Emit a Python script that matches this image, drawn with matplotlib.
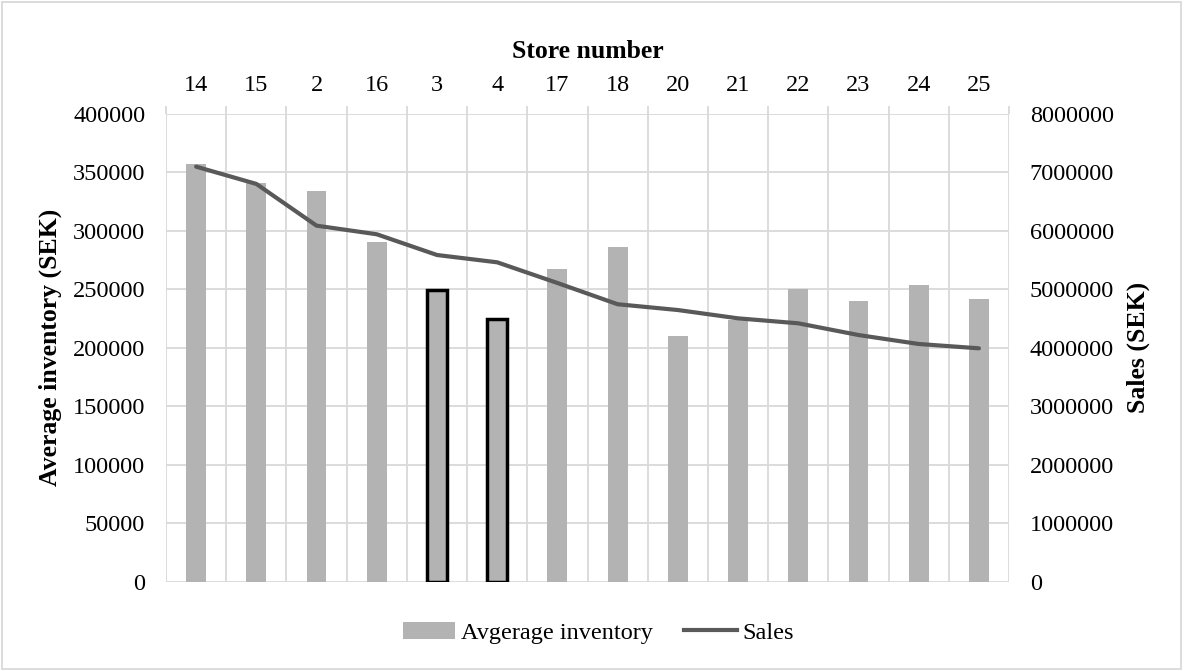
import matplotlib.pyplot as plt
import numpy as np
from matplotlib.patches import Patch, Rectangle
from matplotlib.lines import Line2D
from matplotlib.ticker import FormatStrFormatter

plt.rcParams['font.family'] = ['Liberation Serif', 'DejaVu Serif']

# Stores ordered by sales
stores = ['14', '15', '2', '16', '3', '4', '17', '18', '20', '21', '22', '23', '24', '25']
avg_inventory = [357000, 341000, 334000, 290000, 249000, 225000, 267000,
                 286000, 210000, 224000, 250000, 240000, 254000, 242000]
sales = [7095000, 6800000, 6087000, 5940000, 5586000, 5461000, 5108000,
         4745000, 4646000, 4504000, 4419000, 4219000, 4066000, 3992000]
highlight = ['3', '4']

grid_col = '#d9d9d9'
bar_col = '#b3b3b3'
line_col = '#595959'
tick_fs = 17.5
label_fs = 18.5

fig = plt.figure(figsize=(11.85, 6.71), dpi=100)
ax = fig.add_axes([0.1401, 0.1326, 0.7114, 0.698])
ax2 = ax.twinx()

x = np.arange(len(stores))
bars = ax.bar(x, avg_inventory, width=0.33, color=bar_col, zorder=2)
for b, s in zip(bars, stores):
    if s in highlight:
        b.set_edgecolor('black')
        b.set_linewidth(2.5)

ax2.plot(x, sales, color=line_col, lw=3, solid_capstyle='round', zorder=3)

ax.set_xlim(-0.5, len(stores) - 0.5)
ax.set_ylim(0, 400000)
ax2.set_ylim(0, 8000000)
ax.set_yticks(np.arange(0, 400001, 50000))
ax2.set_yticks(np.arange(0, 8000001, 1000000))
ax.yaxis.set_major_formatter(FormatStrFormatter('%d'))
ax2.yaxis.set_major_formatter(FormatStrFormatter('%d'))

# category labels on top, grid lines between categories
ax.xaxis.tick_top()
ax.xaxis.set_label_position('top')
ax.set_xticks(x)
ax.set_xticklabels(stores)
ax.set_xticks(np.arange(-0.5, len(stores)), minor=True)
ax.tick_params(axis='x', which='major', length=0, labelsize=tick_fs, pad=13)
ax.tick_params(axis='x', which='minor', length=6, color=grid_col, width=1.3)
ax.grid(True, which='minor', axis='x', color=grid_col, lw=1.3, zorder=0)
ax.grid(True, which='major', axis='y', color=grid_col, lw=1.3, zorder=0)
ax.set_axisbelow(True)

ax.tick_params(axis='y', length=0, labelsize=tick_fs, pad=15)
ax2.tick_params(axis='y', length=0, labelsize=tick_fs, pad=15)

for a in (ax, ax2):
    for sp in a.spines.values():
        sp.set_visible(False)

ax.set_xlabel('Store number', fontsize=label_fs, fontweight='bold', labelpad=12)
ax.set_ylabel('Average inventory (SEK)', fontsize=label_fs, fontweight='bold', labelpad=8)
ax2.set_ylabel('Sales (SEK)', fontsize=label_fs, fontweight='bold', labelpad=9)

handles = [Patch(facecolor=bar_col, edgecolor='none'),
           Line2D([0], [0], color=line_col, lw=3)]
fig.legend(handles, ['Avgerage inventory', 'Sales'], loc='center',
           bbox_to_anchor=(0.505, 0.057), ncol=2, frameon=False, fontsize=tick_fs,
           handlelength=2.15, handletextpad=0.25, columnspacing=1.3)

fig.patches.append(Rectangle((0.002, 0.003), 0.995, 0.994, transform=fig.transFigure,
                             fill=False, edgecolor=grid_col, lw=1.3))

fig.savefig('out.png', dpi=100)
